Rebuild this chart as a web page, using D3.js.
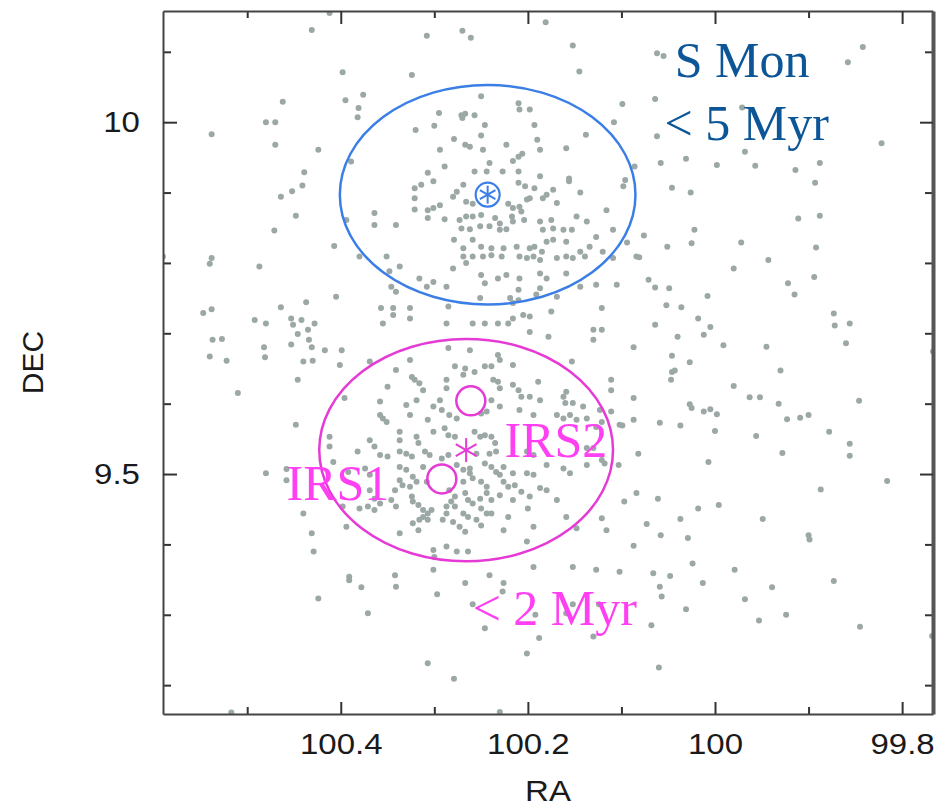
<!DOCTYPE html>
<html><head><meta charset="utf-8">
<script src="https://cdn.jsdelivr.net/npm/d3@7"></script>
<style>html,body{margin:0;padding:0;background:#fff;} svg{display:block;}</style>
</head><body>
<svg id="chart" width="938" height="807"></svg>
<script>
// ---------- data ----------
const raMajorTicks = [100.4, 100.2, 100, 99.8];
const raMinorTicks = [100.5, 100.3, 100.1, 99.9];
const decMajorTicks = [10, 9.5];
const decMinorTicks = [10.1, 9.9, 9.8, 9.7, 9.6, 9.4, 9.3, 9.2];
const raDomain = [100.59, 99.767];
const decDomain = [9.159, 10.158];

// stars: [RA, DEC]
const stars = [
[100.431,10.131],[100.462,10.029],[100.480,10.000],[100.470,10.000],[100.538,9.983],[100.470,9.968],[100.424,9.961],[100.439,9.929],[100.441,9.910],[100.452,9.902],[100.464,9.894],[100.448,9.867],[100.471,9.846],[100.590,9.809],[100.538,9.807],
[100.540,9.799],[100.487,9.795],[100.437,9.744],[100.464,9.737],[100.547,9.729],[100.538,9.734],[100.492,9.719],[100.480,9.714],[100.453,9.721],[100.442,9.719],[100.451,9.712],[100.428,9.714],[100.446,9.699],[100.435,9.705],[100.434,9.691],[100.537,9.691],[100.527,9.692],[100.453,9.684],[100.431,9.680],[100.482,9.680],[100.481,9.666],[100.540,9.667],[100.522,9.661],[100.440,9.660],[100.430,9.661],[100.446,9.634],[100.510,9.615],[100.448,9.570],[100.480,9.501],[100.458,9.507],[100.458,9.491],[100.440,9.444],
[100.431,9.416],[100.429,9.390],[100.424,9.323],[100.517,9.161],
[100.412,10.155],[100.308,10.123],[100.270,10.130],[100.261,10.120],[100.181,10.142],[100.152,10.109],[100.398,10.071],[100.324,10.067],[100.145,10.072],[100.395,10.031],[100.376,10.039],[100.381,10.020],[100.382,10.007],[100.250,10.037],[100.210,10.027],[100.209,10.018],[100.198,10.018],[100.099,10.026],[100.295,10.013],[100.271,10.010],[100.267,10.012],[100.257,10.010],[100.270,10.006],[100.246,9.996],[100.300,9.995],[100.320,9.989],[100.193,9.996],[100.250,9.981],[100.108,10.000],[100.138,9.982],[100.279,9.976],[100.267,9.968],[100.262,9.965],[100.248,9.961],[100.223,9.968],[100.190,9.975],[100.187,9.961],[100.159,9.963],[100.294,9.961],[100.206,9.955],[100.210,9.951],[100.216,9.945],[100.241,9.942],[100.289,9.937],[100.307,9.928],[100.389,9.944],[100.257,9.930],[100.244,9.930],[100.227,9.930],[100.210,9.930],[100.096,9.918],[100.098,9.909],[100.156,9.920],[100.156,9.916],[100.187,9.923],[100.301,9.916],[100.314,9.911],[100.321,9.906],[100.269,9.911],[100.276,9.901],[100.280,9.894],[100.210,9.914],[100.203,9.909],[100.193,9.906],[100.144,9.900],[100.173,9.904],[100.180,9.897],[100.184,9.892],[100.321,9.892],[100.201,9.890],[100.198,9.892],
[100.221,9.884],[100.216,9.878],[100.209,9.880],[100.207,9.873],[100.169,9.885],[100.294,9.882],[100.301,9.878],[100.307,9.875],[100.321,9.876],[100.266,9.887],[100.259,9.884],[100.116,9.875],[100.364,9.871],[100.307,9.864],[100.289,9.862],[100.273,9.861],[100.266,9.866],[100.259,9.866],[100.250,9.868],[100.235,9.864],[100.230,9.856],[100.217,9.866],[100.216,9.859],[100.204,9.861],[100.187,9.859],[100.175,9.861],[100.148,9.866],[100.137,9.859],[100.364,9.854],[100.341,9.854],[100.394,9.861],[100.271,9.849],[100.262,9.848],[100.251,9.852],[100.241,9.852],[100.223,9.848],[100.230,9.847],[100.184,9.847],[100.173,9.849],[100.162,9.847],[100.153,9.847],[100.109,9.847],[100.127,9.837],[100.407,9.824],[100.279,9.833],[100.259,9.833],[100.250,9.823],[100.239,9.821],[100.226,9.821],[100.269,9.821],[100.269,9.809],[100.212,9.823],[100.198,9.821],[100.193,9.823],[100.185,9.816],[100.180,9.830],[100.173,9.833],[100.159,9.830],[100.144,9.816],[100.134,9.823],[100.120,9.816],[100.351,9.809],[100.259,9.809],[100.248,9.809],[100.239,9.811],[100.228,9.809],[100.209,9.809],[100.201,9.807],[100.194,9.809],[100.187,9.804],[100.169,9.807],[100.159,9.809],[100.152,9.807],[100.139,9.809],[100.109,9.807],[100.084,9.809],[100.380,9.809],[100.337,9.795],[100.280,9.792],[100.266,9.800],[100.250,9.783],[100.246,9.771],[100.232,9.778],[100.223,9.783],[100.209,9.778],[100.187,9.785],[100.180,9.778],[100.187,9.764],[100.159,9.785],[100.144,9.766],[100.127,9.769],[100.105,9.769],[100.316,9.778],[100.301,9.773],[100.308,9.766],[100.348,9.788],[100.346,9.766],[100.341,9.759],[100.287,9.766],[100.210,9.762],[100.405,9.752],[100.357,9.736],[100.344,9.736],[100.344,9.726],[100.326,9.736],[100.251,9.750],[100.219,9.750],[100.210,9.747],[100.216,9.743],[100.191,9.755],[100.169,9.752],[100.121,9.736],[100.205,9.726],[100.198,9.724],
[100.062,10.098],[100.055,10.094],[99.842,10.107],[99.858,10.085],[100.064,10.033],[99.971,10.021],[100.062,9.980],[99.822,9.970],[99.968,9.958],[100.086,9.937],[100.058,9.942],[100.031,9.948],[99.998,9.939],[99.957,9.938],[99.914,9.932],[99.888,9.942],[99.893,9.914],[100.046,9.907],[100.026,9.900],[99.911,9.863],[99.888,9.867],[100.022,9.847],[100.076,9.839],[100.094,9.829],[100.051,9.823],[100.025,9.828],[99.972,9.829],[99.892,9.822],[100.081,9.808],[99.943,9.804],[99.980,9.792],[100.071,9.776],[100.064,9.765],[100.049,9.764],[100.008,9.753],[99.922,9.771],[99.915,9.755],[99.894,9.780],[100.052,9.740],[100.036,9.737],[100.018,9.721],[99.873,9.728],
[99.872,9.711],[99.856,9.714],[100.064,9.712],[100.005,9.709],[100.040,9.695],[100.012,9.698],[99.991,9.683],[100.087,9.680],[99.945,9.681],[99.860,9.686],[100.046,9.668],[100.027,9.659],[100.046,9.645],[100.043,9.647],[100.047,9.634],[99.930,9.647],[99.980,9.625],[100.087,9.608],[99.963,9.609],[99.952,9.609],[99.932,9.600],[99.846,9.604],[100.027,9.599],[100.025,9.594],[100.012,9.589],[100.005,9.592],[99.998,9.585],[100.087,9.577],[100.059,9.573],[100.037,9.569],[100.099,9.569],[99.923,9.578],[99.909,9.580],[99.900,9.584],[100.000,9.561],[99.956,9.554],[99.878,9.560],[99.856,9.543],[99.856,9.526],[100.082,9.529],[99.928,9.530],[100.007,9.517],[99.816,9.490],[100.084,9.473],[100.097,9.461],[100.061,9.465],[99.887,9.478],[100.018,9.451],[99.996,9.456],[100.073,9.429],[100.037,9.436],[99.949,9.436],[100.058,9.413],[100.029,9.409],[100.087,9.398],[99.900,9.413],[99.899,9.407],[100.024,9.373],[99.979,9.364],[100.066,9.359],[100.048,9.355],[100.013,9.345],[100.059,9.340],[99.939,9.339],[99.873,9.348],[100.057,9.326],[99.968,9.322],[99.767,9.674],
[100.031,9.308],[99.924,9.300],[99.953,9.292],[100.068,9.285],[99.845,9.283],[100.060,9.225],[99.768,9.270],
[100.391,9.349],[100.378,9.339],[100.341,9.340],[100.267,9.345],[100.371,9.302],[100.297,9.329],[100.227,9.333],[100.259,9.315],[100.246,9.281],[100.192,9.300],[100.188,9.267],[100.152,9.315],[100.159,9.302],[100.124,9.315],[100.130,9.269],[100.201,9.245],[100.307,9.231],[100.279,9.209],[100.230,9.162],
[100.285,9.738],[100.355,9.714],[100.326,9.721],[100.287,9.714],[100.259,9.714],[100.246,9.714],[100.232,9.714],[100.221,9.714],[100.216,9.721],[100.175,9.731],[100.198,9.702],[100.178,9.695],[100.130,9.705],[100.121,9.705],[100.130,9.691],[100.417,9.676],[100.399,9.676],[100.326,9.662],[100.285,9.679],[100.262,9.676],[100.232,9.669],[100.230,9.662],[100.401,9.655],[100.369,9.660],[100.341,9.648],[100.278,9.653],[100.267,9.650],[100.257,9.645],[100.246,9.653],[100.239,9.653],[100.216,9.655],[100.153,9.660],[100.324,9.638],[100.321,9.634],[100.316,9.629],[100.312,9.619],[100.287,9.634],[100.287,9.622],[100.269,9.641],[100.237,9.634],[100.232,9.631],[100.230,9.622],[100.216,9.627],[100.210,9.619],[100.207,9.610],[100.189,9.631],[100.159,9.617],[100.162,9.610],[100.350,9.624],[100.111,9.634],[100.111,9.619],[100.396,9.608],[100.358,9.603],[100.330,9.598],[100.319,9.605],[100.294,9.605],[100.292,9.591],[100.301,9.596],[100.239,9.605],[100.230,9.596],[100.198,9.610],[100.187,9.605],[100.160,9.601],[100.152,9.601],[100.141,9.596],[100.123,9.591],[100.111,9.589],[100.358,9.584],[100.355,9.579],[100.351,9.574],[100.326,9.584],[100.307,9.577],[100.284,9.584],[100.276,9.579],[100.250,9.586],[100.244,9.589],[100.209,9.591],[100.194,9.584],[100.169,9.584],[100.162,9.579],[100.155,9.584],[100.148,9.577],[100.137,9.579],[100.127,9.567],[100.121,9.574],[100.102,9.570],[100.412,9.553],[100.412,9.539],[100.369,9.548],[100.364,9.539],[100.337,9.560],[100.337,9.548],[100.319,9.553],[100.317,9.544],[100.301,9.560],[100.289,9.565],[100.285,9.555],[100.278,9.553],[100.257,9.560],[100.251,9.553],[100.246,9.555],[100.239,9.553],[100.235,9.544],[100.382,9.532],[100.358,9.527],[100.350,9.525],[100.337,9.532],[100.330,9.529],[100.324,9.525],[100.310,9.532],[100.305,9.527],[100.292,9.522],[100.285,9.527],[100.255,9.529],[100.241,9.529],[100.234,9.532],[100.201,9.532],[100.194,9.527],[100.137,9.537],[100.130,9.537],[100.121,9.520],[100.118,9.515],[100.103,9.513],[100.408,9.517],[100.392,9.503],[100.374,9.508],[100.369,9.499],[100.337,9.510],[100.330,9.506],[100.323,9.496],[100.312,9.510],[100.276,9.513],[100.269,9.506],[100.262,9.508],[100.262,9.501],[100.246,9.515],[100.239,9.510],[100.234,9.503],[100.226,9.510],[100.216,9.501],[100.201,9.501],[100.194,9.499],[100.180,9.513],[100.162,9.508],[100.155,9.501],[100.137,9.513],[100.337,9.491],[100.334,9.484],[100.342,9.477],[100.326,9.482],[100.319,9.489],[100.308,9.489],[100.269,9.489],[100.259,9.494],[100.250,9.489],[100.244,9.482],[100.230,9.499],[100.226,9.489],[100.221,9.482],[100.214,9.484],[100.207,9.475],[100.187,9.480],[100.180,9.477],[100.369,9.477],[100.364,9.465],[100.358,9.458],[100.364,9.449],[100.346,9.463],[100.341,9.454],[100.324,9.468],[100.323,9.461],[100.317,9.456],[100.312,9.449],[100.307,9.444],[100.312,9.439],[100.316,9.435],[100.307,9.435],[100.303,9.449],[100.284,9.477],[100.278,9.468],[100.282,9.461],[100.267,9.473],[100.264,9.463],[100.259,9.458],[100.251,9.465],[100.244,9.473],[100.239,9.463],[100.230,9.470],[100.216,9.463],[100.198,9.468],[100.169,9.463],[100.398,9.454],[100.380,9.451],[100.371,9.454],[100.287,9.454],[100.287,9.444],[100.278,9.454],[100.269,9.444],[100.264,9.439],[100.250,9.451],[100.244,9.444],[100.239,9.444],[100.221,9.439],[100.200,9.451],[100.159,9.439],[100.121,9.437],[100.394,9.425],[100.323,9.430],[100.317,9.420],[100.291,9.435],[100.280,9.432],[100.273,9.425],[100.267,9.418],[100.255,9.435],[100.250,9.427],[100.226,9.420],[100.194,9.425],[100.148,9.423],[100.116,9.420],[100.287,9.397],[100.276,9.390],[100.301,9.392],[100.300,9.382],[100.264,9.390],[100.337,9.416],[100.201,9.404],[100.391,9.354],[100.342,9.356],[100.301,9.364],[100.241,9.356],[100.226,9.345],[100.194,9.368],[100.152,9.368],[100.127,9.364],[100.102,9.361]
];

// cluster regions (centre and radius in degrees)
const regionNames = ["S Mon", "< 2 Myr"];
const regionRA = [100.243, 100.266];
const regionDEC = [9.897, 9.534];
const regionRadRA = [0.158, 0.157];
const regionRadDEC = [0.156, 0.158];

// infrared sources
const irsNames = ["IRS2", "IRS1"];
const irsRA = [100.261, 100.292];
const irsDEC = [9.604, 9.493];

// ---------- drawing ----------
const BLUE = "#3b7fe6", BLUE_TXT = "#0c5698", MAG = "#e63ad6", MAG_TXT = "#ff40f2";
const L = 163, R = 933, T = 11, B = 714;
const SANS = "'Liberation Sans', Arial, sans-serif";
const svg = d3.select("#chart");
const x = d3.scaleLinear().domain(raDomain).range([L, R]);
const y = d3.scaleLinear().domain(decDomain).range([B, T]);

svg.append("defs").append("clipPath").attr("id", "plotclip")
  .append("rect").attr("x", L).attr("y", T).attr("width", R - L).attr("height", B - T);

// points
svg.append("g").attr("clip-path", "url(#plotclip)")
  .selectAll("circle").data(stars).join("circle")
  .attr("cx", d => x(d[0])).attr("cy", d => y(d[1]))
  .attr("r", 3).attr("fill", "#9ca8a6");

// axes
function styleAxis(g, domainW, domainC) {
  g.select(".domain").attr("stroke", domainC || "#444").attr("stroke-width", domainW || 2);
  g.selectAll(".tick line").attr("stroke", "#333").attr("stroke-width", 2);
  g.attr("font-family", SANS).attr("font-size", 30);
  g.selectAll("text").attr("fill", "#1a1a1a");
}
const fmt = d => String(d);
// bottom
svg.append("g").attr("transform", `translate(0,${B})`)
  .call(d3.axisBottom(x).tickValues(raMinorTicks).tickSizeInner(-7).tickSizeOuter(0).tickFormat(""))
  .call(g => { g.select(".domain").remove(); styleAxis(g); });
svg.append("g").attr("transform", `translate(0,${B})`)
  .call(d3.axisBottom(x).tickValues(raMajorTicks).tickSizeInner(-12).tickSizeOuter(0).tickPadding(19).tickFormat(fmt))
  .call(g => { styleAxis(g); g.selectAll("text").attr("transform", "scale(1.1,1)"); });
// top
svg.append("g").attr("transform", `translate(0,${T})`)
  .call(d3.axisTop(x).tickValues(raMinorTicks).tickSizeInner(-7).tickSizeOuter(0).tickFormat(""))
  .call(g => { g.select(".domain").remove(); styleAxis(g); });
svg.append("g").attr("transform", `translate(0,${T})`)
  .call(d3.axisTop(x).tickValues(raMajorTicks).tickSizeInner(-13).tickSizeOuter(0).tickFormat(""))
  .call(g => styleAxis(g));
// left
svg.append("g").attr("transform", `translate(${L},0)`)
  .call(d3.axisLeft(y).tickValues(decMinorTicks).tickSizeInner(-8).tickSizeOuter(0).tickFormat(""))
  .call(g => { g.select(".domain").remove(); styleAxis(g); });
svg.append("g").attr("transform", `translate(${L},0)`)
  .call(d3.axisLeft(y).tickValues(decMajorTicks).tickSizeInner(-14).tickSizeOuter(0).tickPadding(21).tickFormat(fmt))
  .call(g => { styleAxis(g); g.selectAll("text").attr("transform", "scale(1.1,1)"); });
// right
svg.append("g").attr("transform", `translate(${R},0)`)
  .call(d3.axisRight(y).tickValues(decMinorTicks).tickSizeInner(-8).tickSizeOuter(0).tickFormat(""))
  .call(g => { g.select(".domain").remove(); styleAxis(g); });
svg.append("g").attr("transform", `translate(${R},0)`)
  .call(d3.axisRight(y).tickValues(decMajorTicks).tickSizeInner(-13).tickSizeOuter(0).tickFormat(""))
  .call(g => styleAxis(g, 4, "#555"));

// axis titles
svg.append("text").attr("transform", `translate(${(L + R) / 2},801) scale(1.1,1)`).attr("text-anchor", "middle")
  .attr("font-family", SANS).attr("font-size", 30).attr("fill", "#1a1a1a").text("RA");
svg.append("text").attr("transform", `translate(43,${(T + B) / 2}) rotate(-90)`).attr("text-anchor", "middle")
  .attr("font-family", SANS).attr("font-size", 30).attr("fill", "#1a1a1a").text("DEC");

// region ellipses
const regionColors = [BLUE, MAG];
svg.append("g").selectAll("ellipse").data(regionNames).join("ellipse")
  .attr("cx", (d, i) => x(regionRA[i])).attr("cy", (d, i) => y(regionDEC[i]))
  .attr("rx", (d, i) => Math.abs(x(regionRA[i] + regionRadRA[i]) - x(regionRA[i])))
  .attr("ry", (d, i) => Math.abs(y(regionDEC[i] + regionRadDEC[i]) - y(regionDEC[i])))
  .attr("fill", "none").attr("stroke", (d, i) => regionColors[i]).attr("stroke-width", 2.5);

// asterisk helper
function asterisk(g, cx, cy, r, color, w) {
  [90, 30, -30].forEach(a => {
    const rad = a * Math.PI / 180;
    g.append("line").attr("x1", cx - r * Math.cos(rad)).attr("y1", cy - r * Math.sin(rad))
      .attr("x2", cx + r * Math.cos(rad)).attr("y2", cy + r * Math.sin(rad))
      .attr("stroke", color).attr("stroke-width", w);
  });
}
const mk = svg.append("g");
// S Mon centre marker
mk.append("circle").attr("cx", x(regionRA[0])).attr("cy", y(regionDEC[0])).attr("r", 12)
  .attr("fill", "none").attr("stroke", BLUE).attr("stroke-width", 2.2);
asterisk(mk, x(regionRA[0]), y(regionDEC[0]), 9, BLUE, 2);
// young cluster centre
asterisk(mk, x(regionRA[1]), y(regionDEC[1]), 12, MAG, 2);
// IRS circles
mk.selectAll("circle.irs").data(irsNames).join("circle").attr("class", "irs")
  .attr("cx", (d, i) => x(irsRA[i])).attr("cy", (d, i) => y(irsDEC[i])).attr("r", 14.5)
  .attr("fill", "none").attr("stroke", MAG).attr("stroke-width", 2.5);

// annotations
const serif = "'Liberation Serif', 'Times New Roman', serif";
const ann = [
  {t: "S Mon", ra: 100.043, dec: 10.064, c: BLUE_TXT},
  {t: "< 5 Myr", ra: 100.054, dec: 9.975, c: BLUE_TXT},
  {t: "IRS2", ra: 100.225, dec: 9.524, c: MAG_TXT},
  {t: "IRS1", ra: 100.458, dec: 9.463, c: MAG_TXT},
  {t: "< 2 Myr", ra: 100.259, dec: 9.285, c: MAG_TXT}
];
svg.append("g").selectAll("text").data(ann).join("text")
  .attr("x", d => x(d.ra)).attr("y", d => y(d.dec))
  .attr("font-family", serif).attr("font-size", 50).attr("fill", d => d.c).text(d => d.t);
</script>
</body></html>
